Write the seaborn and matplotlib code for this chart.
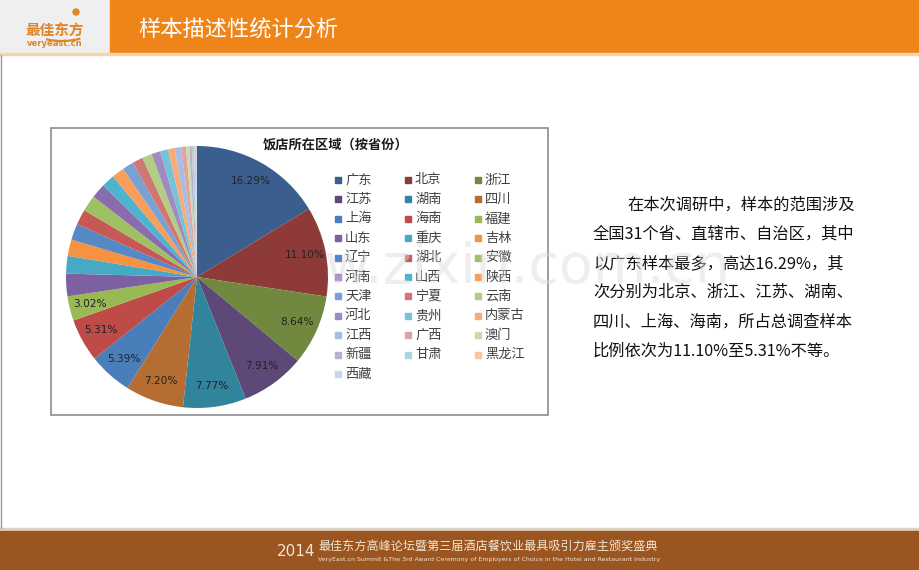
import matplotlib
matplotlib.use("Agg")
import matplotlib.pyplot as plt
from matplotlib.patches import Rectangle, Arc
import seaborn as sns

# data
provinces = ["广东", "北京", "浙江", "江苏", "湖南", "四川", "上海", "海南", "福建",
             "山东", "重庆", "吉林", "辽宁", "湖北", "安徽", "河南", "山西", "陕西",
             "天津", "宁夏", "云南", "河北", "贵州", "内蒙古", "江西", "广西", "澳门",
             "新疆", "甘肃", "黑龙江", "西藏"]
shares = [16.29, 11.10, 8.64, 7.91, 7.77, 7.20, 5.39, 5.31, 3.02,
          2.78, 2.17, 2.03, 2.00, 1.90, 2.00, 1.80, 1.60, 1.55,
          1.40, 1.30, 1.20, 1.10, 1.00, 0.80, 0.80, 0.60, 0.40,
          0.30, 0.30, 0.20, 0.14]
slice_colors = ["#3A5F8F", "#8E3A38", "#71893F", "#5E4878", "#31849B", "#B66D31",
                "#4A7EBB", "#BE4B48", "#98B954", "#7D60A0", "#46AAC5", "#F69240",
                "#5688C4", "#C65855", "#A0C064", "#8A6DAE", "#4DB3CE", "#F79E5B",
                "#7BA0D4", "#D07673", "#B2CE83", "#A08BC0", "#76C2D8", "#F9AB73",
                "#A7BDE1", "#DDA4A3", "#C8DCA9", "#BBAED2", "#A5D4E3", "#FBC4A2",
                "#C9D5EB"]

page_title = "样本描述性统计分析"
chart_title = "饭店所在区域（按省份）"
paragraph = ["在本次调研中，样本的范围涉及",
             "全国31个省、直辖市、自治区，其中",
             "以广东样本最多，高达16.29%，其",
             "次分别为北京、浙江、江苏、湖南、",
             "四川、上海、海南，所占总调查样本",
             "比例依次为11.10%至5.31%不等。"]
footer_cn = "最佳东方高峰论坛暨第三届酒店餐饮业最具吸引力雇主颁奖盛典"
footer_en = "VeryEast.cn Summit &The 3rd Award Ceremony of Employers of Choice in the Hotel and Restaurant Industry"

sns.set_theme(style="white")
plt.rcParams['font.family'] = ['Noto Sans CJK SC', 'DejaVu Sans']

W, H = 920, 570
fig = plt.figure(figsize=(W / 100, H / 100), dpi=100)
fig.patch.set_facecolor("white")

# page canvas in pixel coordinates
bg = fig.add_axes([0, 0, 1, 1])
bg.set_xlim(0, W)
bg.set_ylim(H, 0)
bg.axis("off")

# header
bg.add_patch(Rectangle((0, 0), 110, 53, color="#EFEFEF", zorder=1))
bg.add_patch(Rectangle((110, 0), W - 110, 53, color="#EF8419", zorder=1))
bg.add_patch(Rectangle((0, 53), W, 2, color="#F7D3A8", zorder=1))
bg.text(138, 30, page_title, color="white", fontsize=16, va="center", ha="left", zorder=3)

# logo
bg.text(55, 31, "最佳东方", color="#E0852A", fontsize=10.5, fontweight="bold",
        ha="center", va="center", zorder=3)
bg.text(55, 43, "veryeast.cn", color="#E0852A", fontsize=6, fontweight="bold",
        family="DejaVu Sans", ha="center", va="center", zorder=3)
bg.add_patch(Arc((62, 30), 58, 22, theta1=25, theta2=150, color="#E0852A", lw=1.6, zorder=3))
bg.add_patch(plt.Circle((76, 12), 3, color="#E0852A", zorder=3))

# left margin line
bg.plot([1, 1], [55, 528], color="#9A9A9A", lw=1, zorder=2)

# footer
bg.add_patch(Rectangle((0, 528), W, 3, color="#DCD3C4", zorder=1))
bg.add_patch(Rectangle((0, 531), W, H - 531, color="#9A5521", zorder=1))
bg.text(296, 551, "2014", color="#F3E6D0", fontsize=11, family="DejaVu Sans",
        ha="center", va="center", zorder=3)
bg.text(318, 546, footer_cn, color="#F3E6D0", fontsize=8.7, ha="left", va="center", zorder=3)
bg.text(318, 560, footer_en, color="#F3E6D0", fontsize=4.5, family="DejaVu Sans",
        ha="left", va="center", zorder=3)

# chart box
bg.add_patch(Rectangle((51, 128), 497, 287, facecolor="white", edgecolor="#8C8C8C",
                       lw=1.2, zorder=2))
bg.text(336, 145, chart_title, fontsize=9.5, fontweight="bold", color="#1A1A1A",
        ha="center", va="center", zorder=3)

# legend (row-major, 3 columns)
for i, name in enumerate(provinces):
    r, c = divmod(i, 3)
    x = 335 + c * 70
    y = 180 + r * 19.4
    bg.add_patch(Rectangle((x, y - 3), 6, 6, color=slice_colors[i], zorder=3))
    bg.text(x + 10, y, name, fontsize=9.5, color="#404040", ha="left", va="center", zorder=3)

# watermark
bg.text(235, 268, "www.zixin.com.cn", fontsize=40, color="#DADADA", alpha=0.45,
        family="DejaVu Sans", ha="left", va="center", zorder=4)

# paragraph
for k, line in enumerate(paragraph):
    x0 = 627 if k == 0 else 593
    bg.text(x0, 205 + k * 29.2, line, fontsize=11.7, color="#111111",
            ha="left", va="center", zorder=3)

# pie
cx, cy, rad = 197, 277, 131
pie_ax = fig.add_axes([(cx - rad) / W, (H - cy - rad) / H, 2 * rad / W, 2 * rad / H])
pie_ax.pie(shares, colors=slice_colors, startangle=90, counterclock=False,
           autopct=lambda p: f"{p:.2f}%" if p >= 3 else "", pctdistance=0.84,
           wedgeprops=dict(linewidth=0),
           textprops=dict(fontsize=7.6, color="#222222", family="DejaVu Sans"))
pie_ax.set_xlim(-1, 1)
pie_ax.set_ylim(-1, 1)
pie_ax.set_aspect("auto")
pie_ax.axis("off")

fig.savefig("out.png", dpi=100)
